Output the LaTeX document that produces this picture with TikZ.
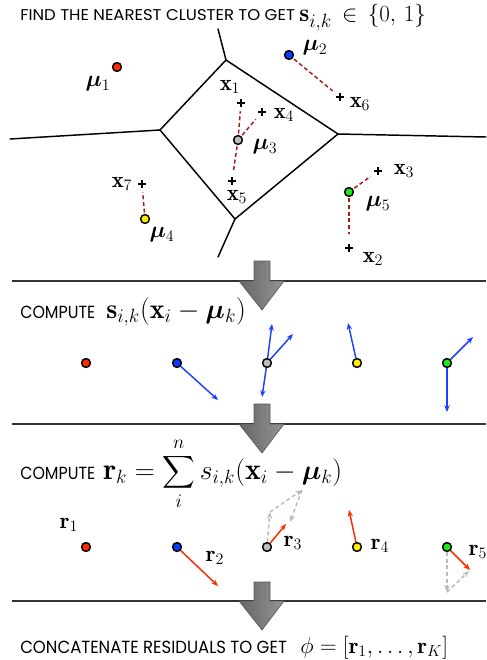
\documentclass[tikz,border=0pt]{standalone}
\usepackage{amsmath}
\usepackage{bm}
\usepackage{graphicx}
\usepackage{fontspec}
\newfontfamily\headfont{Poppins}
\usetikzlibrary{arrows.meta}
\definecolor{cred}{HTML}{FF2A00}
\definecolor{cblue}{HTML}{0A3CFF}
\definecolor{cgray}{HTML}{BDBDBD}
\definecolor{cyellow}{HTML}{FFEE00}
\definecolor{cgreen}{HTML}{1EE61E}
\definecolor{cvec}{HTML}{1E40FF}
\definecolor{cres}{HTML}{FF2A00}
\definecolor{cdash}{HTML}{A51C1C}
\definecolor{cgs}{HTML}{BBBBBB}
\newcommand{\smallsum}{\mathop{\vcenter{\hbox{\scalebox{0.82}{$\displaystyle\sum$}}}}\limits}
\begin{document}
\begin{tikzpicture}[x=0.75pt,y=-0.75pt,
  dot/.style={circle,draw=black,line width=1.1pt,minimum size=6.6pt,inner sep=0pt},
  vor/.style={line width=1.1pt,line cap=round,line join=miter},
  assign/.style={draw=cdash,line width=1.1pt,dash pattern=on 3pt off 2pt,shorten >=3pt,shorten <=1pt},
  plusm/.style={minimum size=6pt,inner sep=0pt,path picture={
      \draw[line width=1.5pt] (path picture bounding box.north) -- (path picture bounding box.south)
                              (path picture bounding box.west) -- (path picture bounding box.east);}},
  lab/.style={inner sep=0pt,font=\fontsize{17}{20}\selectfont},
  head/.style={anchor=base west,inner sep=0pt,font=\headfont\fontsize{12}{14}\selectfont},
  hmath/.style={anchor=base west,inner sep=0pt},
  sepline/.style={line width=0.8pt,draw=black!80},
  barrow/.style={draw=black!65,line width=0.5pt,left color=black!60,right color=black!42},
  vec/.style={-{Stealth[length=5pt,width=4pt]},line width=1.1pt,draw=cvec},
  res/.style={-{Stealth[length=5pt,width=4pt]},line width=1.1pt,draw=cres},
  gsum/.style={-{Stealth[length=5pt,width=4pt]},line width=1.1pt,draw=cgs,dash pattern=on 3pt off 2pt}
]
\useasboundingbox (0,0) rectangle (486,660);

% ---------- Section 1 ----------
\node[head] (h1t) at (20,21) {\resizebox{206pt}{8.25pt}{FIND THE NEAREST CLUSTER TO GET}};
\node[hmath,font=\fontsize{19}{22}\selectfont] (h1m) at (299,22) {$\mathbf{s}_{i,k} \,\in\, \{0,\,1\}$};

% Voronoi
\coordinate (vA) at (226,60);
\coordinate (vB) at (160,130);
\coordinate (vC) at (338,134);
\coordinate (vD) at (235,219);
\coordinate (eA) at (218,29);
\coordinate (eB) at (10,139);
\coordinate (eC) at (486,137);
\coordinate (eD) at (218,257);
\draw[vor] (vA) -- (vB) -- (vD) -- (vC) -- cycle;
\draw[vor] (vA) -- (eA);
\draw[vor] (vB) -- (eB);
\draw[vor] (vC) -- (eC);
\draw[vor] (vD) -- (eD);

% points
\node[plusm] (p1) at (241,103) {};
\node[plusm] (p2) at (349,248) {};
\node[plusm] (p3) at (378,171) {};
\node[plusm] (p4) at (262,112) {};
\node[plusm] (p5) at (232,181) {};
\node[plusm] (p6) at (340,97) {};
\node[plusm] (p7) at (142,184) {};

% centroids
\node[dot,fill=cred]    (m1) at (117,67) {};
\node[dot,fill=cblue]   (m2) at (289,55) {};
\node[dot,fill=cgray]   (m3) at (238,140) {};
\node[dot,fill=cyellow] (m4) at (145,219) {};
\node[dot,fill=cgreen]  (m5) at (349,192) {};

\draw[assign] (m3) -- (p1);
\draw[assign] (m3) -- (p4);
\draw[assign] (m3) -- (p5);
\draw[assign] (m2) -- (p6);
\draw[assign] (m4) -- (p7);
\draw[assign] (m5) -- (p3);
\draw[assign,shorten >=7pt] (m5) -- (p2);

\node[lab] (lm1) at (98,84)  {$\bm{\mu}_1$};
\node[lab] (lm2) at (315,48) {$\bm{\mu}_2$};
\node[lab] (lm3) at (265,147) {$\bm{\mu}_3$};
\node[lab] (lm4) at (162,235) {$\bm{\mu}_4$};
\node[lab] (lm5) at (378,204) {$\bm{\mu}_5$};
\node[lab] (lx1) at (230,87)  {$\mathbf{x}_1$};
\node[lab] (lx2) at (373,259) {$\mathbf{x}_2$};
\node[lab] (lx3) at (404,171) {$\mathbf{x}_3$};
\node[lab] (lx4) at (284,115) {$\mathbf{x}_4$};
\node[lab] (lx5) at (237,197) {$\mathbf{x}_5$};
\node[lab] (lx6) at (360,104) {$\mathbf{x}_6$};
\node[lab] (lx7) at (122,184) {$\mathbf{x}_7$};

% ---------- separators and block arrows ----------
\coordinate (s1w) at (12,281);  \coordinate (s1e) at (486,281);
\coordinate (s2w) at (12,424);  \coordinate (s2e) at (486,424);
\coordinate (s3w) at (12,601);  \coordinate (s3e) at (486,601);
\draw[sepline] (s1w) -- (s1e);
\draw[sepline] (s2w) -- (s2e);
\draw[sepline] (s3w) -- (s3e);

\path[barrow] (254,261) -- (270,261) -- (270,281) -- (284,281) -- (262,310) -- (239,281) -- (254,281) -- cycle;
\path[barrow] (254,404) -- (270,404) -- (270,424) -- (284,424) -- (262,453) -- (239,424) -- (254,424) -- cycle;
\path[barrow] (254,582) -- (270,582) -- (270,601) -- (284,601) -- (262,630) -- (239,601) -- (254,601) -- cycle;

% ---------- Section 2 ----------
\node[head] (h2t) at (20,318) {\resizebox{56.25pt}{9.3pt}{COMPUTE}};
\node[hmath,font=\fontsize{21}{24}\selectfont] (h2m) at (106,318) {$\mathbf{s}_{i,k}(\mathbf{x}_i - \bm{\mu}_k)$};

\node[dot,fill=cred]    (a1) at (86,363) {};
\node[dot,fill=cblue]   (a2) at (177,363) {};
\node[dot,fill=cgray]   (a3) at (267,363) {};
\node[dot,fill=cyellow] (a4) at (357,363) {};
\node[dot,fill=cgreen]  (a5) at (447,363) {};

\coordinate (a2e) at (218,400);
\coordinate (a3e1) at (272,324);
\coordinate (a3e2) at (293,334);
\coordinate (a3e3) at (262,397);
\coordinate (a4e) at (348,323);
\coordinate (a5e1) at (473,337);
\coordinate (a5e2) at (447,412);
\draw[vec] (a2) -- (a2e);
\draw[vec] (a3) -- (a3e1);
\draw[vec] (a3) -- (a3e2);
\draw[vec] (a3) -- (a3e3);
\draw[vec] (a4) -- (a4e);
\draw[vec] (a5) -- (a5e1);
\draw[vec] (a5) -- (a5e2);

% ---------- Section 3 ----------
\node[head] (h3t) at (20,479) {\resizebox{56.25pt}{9.3pt}{COMPUTE}};
\node[hmath,font=\fontsize{22.5}{26}\selectfont] (h3m) at (103,479) {$\mathbf{r}_k = \smallsum_{i}^{n} s_{i,k}(\mathbf{x}_i - \bm{\mu}_k)$};

\node[dot,fill=cred]    (b1) at (86,547) {};
\node[dot,fill=cblue]   (b2) at (177,547) {};
\node[dot,fill=cgray]   (b3) at (267,547) {};
\node[dot,fill=cyellow] (b4) at (357,547) {};
\node[dot,fill=cgreen]  (b5) at (447,547) {};

\coordinate (g1) at (270,512);
\coordinate (g2) at (302,490);
\coordinate (g3) at (290,522);
\coordinate (g4) at (447,592);
\coordinate (g5) at (469,571);
\draw[gsum] (b3) -- (g1);
\draw[gsum] (g1) -- (g2);
\draw[gsum] (g2) -- (g3);
\draw[gsum] (b5) -- (g4);
\draw[gsum] (g4) -- (g5);

\coordinate (b2e) at (218,586);
\coordinate (b3e) at (286,524);
\coordinate (b4e) at (349,510);
\coordinate (b5e) at (470,570);
\draw[res] (b2) -- (b2e);
\draw[res] (b3) -- (b3e);
\draw[res] (b4) -- (b4e);
\draw[res] (b5) -- (b5e);

\node[lab] (r1) at (69,525)  {$\mathbf{r}_1$};
\node[lab] (r2) at (215,558) {$\mathbf{r}_2$};
\node[lab] (r3) at (293,543) {$\mathbf{r}_3$};
\node[lab] (r4) at (380,546) {$\mathbf{r}_4$};
\node[lab] (r5) at (478,552) {$\mathbf{r}_5$};

% ---------- Section 4 ----------
\node[head] (h4t) at (20,653) {\resizebox{200pt}{9.3pt}{CONCATENATE RESIDUALS TO GET}};
\node[hmath,font=\fontsize{17}{20}\selectfont] (h4m) at (300,653) {$\phi = [\mathbf{r}_1, \ldots, \mathbf{r}_K]$};
\end{tikzpicture}
\end{document}
